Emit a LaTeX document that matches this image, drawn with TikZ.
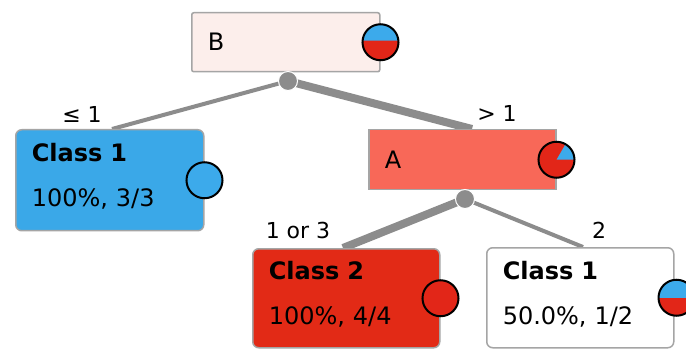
\documentclass[tikz,border=0pt]{standalone}
\usepackage{fontspec}
\setmainfont{DejaVu Sans}
\usetikzlibrary{backgrounds}
\definecolor{rootfill}{RGB}{252,238,235}
\definecolor{afill}{RGB}{248,104,88}
\definecolor{redfill}{RGB}{226,42,22}
\definecolor{bluefill}{RGB}{58,168,232}
\definecolor{piered}{RGB}{226,38,24}
\definecolor{pieblue}{RGB}{60,170,235}
\definecolor{edgegray}{RGB}{140,140,140}
\definecolor{framegray}{RGB}{165,165,165}
\newcommand{\lowpad}{\rule[-10pt]{0pt}{10pt}}
\tikzset{
  treebox/.style={draw=framegray, line width=1.5pt, anchor=north west,
    inner xsep=16pt, inner ysep=0pt, align=left,
    font=\fontsize{24}{45}\selectfont},
  thinedge/.style={draw=edgegray, line width=4pt},
  thickedge/.style={draw=edgegray, line width=8pt},
  splitdot/.style={circle, fill=edgegray, draw=white, line width=1pt,
    minimum size=19pt, inner sep=0pt},
  pieline/.style={draw=black, line width=2pt},
  branch/.style={font=\fontsize{22}{26}\selectfont, inner sep=0pt}
}
\begin{document}
\begin{tikzpicture}[x=1pt,y=-1pt]
\useasboundingbox (0,0) rectangle (686,350);

% tree nodes
\node[treebox, fill=rootfill, rounded corners=2pt, minimum width=188pt,
  minimum height=59pt, text width=156pt] (B) at (191,12) {B};
\node[treebox, fill=bluefill, rounded corners=6pt, minimum width=188pt,
  minimum height=101pt, text width=156pt] (C1L) at (15,129)
  {\textbf{Class 1}\\100\%, 3/3\lowpad};
\node[treebox, fill=afill, minimum width=187pt,
  minimum height=60pt, text width=155pt] (A) at (368,129) {A};
\node[treebox, fill=redfill, rounded corners=6pt, minimum width=187pt,
  minimum height=99pt, text width=155pt] (C2) at (252,248)
  {\textbf{Class 2}\\100\%, 4/4\lowpad};
\node[treebox, fill=white, rounded corners=6pt, minimum width=187pt,
  minimum height=100pt, text width=155pt] (C1R) at (486,247)
  {\textbf{Class 1}\\50.0\%, 1/2\lowpad};

% split points
\node[splitdot] (sB) at (288,81) {};
\node[splitdot] (sA) at (465,199) {};

% connectors, kept behind the boxes
\begin{scope}[on background layer]
\fill[white] (0,0) rectangle (686,350);
\draw[thinedge] (sB.center) -- ([xshift=97pt]C1L.north west);
\draw[thickedge] (sB.center) -- ([xshift=104pt]A.north west);
\draw[thickedge] (sA.center) -- ([xshift=91pt]C2.north west);
\draw[thinedge] (sA.center) -- ([xshift=97pt]C1R.north west);
\end{scope}

% branch labels
\node[branch] (l1) at (82,114) {≤ 1};
\node[branch] (l2) at (497,113) {> 1};
\node[branch] (l3) at (298,230) {1 or 3};
\node[branch] (l4) at (599,230) {2};

% class distribution pies
\fill[piered] (B.east) circle[radius=18pt];
\fill[pieblue] ([shift={(5:18pt)}]B.east) arc[start angle=5, end angle=175, radius=18pt] -- cycle;
\draw[pieline] (B.east) circle[radius=18pt];

\fill[pieblue] (C1L.east) circle[radius=18pt];
\draw[pieline] (C1L.east) circle[radius=18pt];

\fill[piered] (A.east) circle[radius=18pt];
\fill[pieblue] (A.east) -- ([shift={(0:18pt)}]A.east) arc[start angle=0, end angle=60, radius=18pt] -- cycle;
\draw[pieline] (A.east) circle[radius=18pt];

\fill[piered] (C2.east) circle[radius=18pt];
\draw[pieline] (C2.east) circle[radius=18pt];

\fill[piered] ([xshift=2pt]C1R.east) circle[radius=18pt];
\fill[pieblue] ([xshift=2pt,shift={(0:18pt)}]C1R.east) arc[start angle=0, end angle=180, radius=18pt] -- cycle;
\draw[pieline] ([xshift=2pt]C1R.east) circle[radius=18pt];
\end{tikzpicture}
\end{document}
